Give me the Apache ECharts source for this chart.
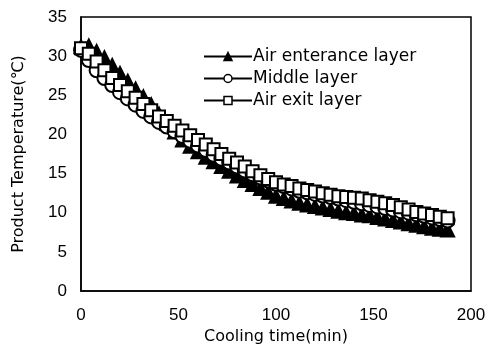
<!DOCTYPE html>
<html>
<head>
<meta charset="utf-8">
<script src="https://cdn.jsdelivr.net/npm/echarts@6/dist/echarts.min.js"></script>
<style>
  html, body { margin: 0; padding: 0; background: #fff; }
  #chart { width: 489px; height: 350px; }
</style>
</head>
<body>
<div id="chart"></div>
<script>
// sampling times (min)
const times = [0, 4, 8, 12, 16, 20, 24, 28, 32, 36, 40, 44, 48, 52, 56, 60, 64, 68, 72, 76,
  80, 84, 88, 92, 96, 100, 104, 108, 112, 116, 120, 124, 128, 132, 136, 140, 144, 148, 152, 156,
  160, 164, 168, 172, 176, 180, 184, 188];

const airEntrance = [31.2, 31.3, 30.6, 29.8, 28.8, 27.8, 26.8, 25.8, 24.8, 23.8, 22.6, 21.4, 20.3,
  19.3, 18.5, 17.8, 17.1, 16.5, 15.9, 15.3, 14.7, 14.1, 13.6, 13.1, 12.6, 12.1, 11.8, 11.5, 11.2,
  11.0, 10.8, 10.6, 10.4, 10.2, 10.0, 9.9, 9.7, 9.6, 9.4, 9.2, 9.0, 8.8, 8.6, 8.4, 8.2, 8.0, 7.9, 7.8];

const middleLayer = [30.8, 29.5, 28.2, 27.2, 26.3, 25.4, 24.6, 23.8, 23.0, 22.3, 21.6, 21.0, 20.4,
  19.8, 19.2, 18.6, 18.0, 17.4, 16.9, 16.4, 15.9, 15.4, 14.9, 14.5, 14.1, 13.7, 13.4, 13.1, 12.8,
  12.6, 12.4, 12.2, 12.0, 11.8, 11.6, 11.4, 11.2, 11.0, 10.8, 10.6, 10.4, 10.2, 10.0, 9.8, 9.6, 9.4,
  9.2, 9.0];

const airExit = [31.0, 30.3, 29.3, 28.2, 27.2, 26.3, 25.5, 24.7, 23.9, 23.1, 22.3, 21.7, 21.1,
  20.5, 19.9, 19.3, 18.7, 18.1, 17.5, 16.9, 16.4, 15.9, 15.3, 14.8, 14.3, 13.9, 13.6, 13.4, 13.1,
  12.9, 12.7, 12.5, 12.3, 12.1, 12.0, 11.9, 11.8, 11.6, 11.4, 11.2, 11.0, 10.7, 10.4, 10.1, 9.9,
  9.7, 9.5, 9.3];

const seriesNames = ['Air enterance layer', 'Middle layer', 'Air exit layer'];

const tickFont = 'Liberation Sans, Arial, sans-serif';
const textFont = 'DejaVu Sans, sans-serif';
const chart = echarts.init(document.getElementById('chart'));

function pairs(vals) {
  return times.map((t, i) => [t, vals[i]]);
}

function makeSeries(name, vals, symbol, filled) {
  return {
    name,
    type: 'line',
    data: pairs(vals),
    symbol,
    symbolSize: symbol === 'triangle' ? 13 : (symbol === 'rect' ? 12 : 14),
    showAllSymbol: true,
    lineStyle: { color: '#000', width: 1 },
    itemStyle: {
      color: filled ? '#000' : '#fff',
      borderColor: '#000',
      borderWidth: 2,
    },
    emphasis: { disabled: true },
    animation: false,
  };
}

chart.setOption({
  backgroundColor: '#fff',
  grid: {
    left: 81, right: 18, top: 17, bottom: 59,
    show: true, borderColor: '#000', borderWidth: 1.5,
  },
  legend: {
    left: 198, top: 43,
    orient: 'vertical',
    itemWidth: 48, itemHeight: 10, itemGap: 5,
    itemStyle: { borderWidth: 1.5 },
    textStyle: { fontFamily: textFont, fontSize: 17, color: '#000', padding: [0, 0, 0, -4] },
    data: seriesNames,
  },
  xAxis: {
    type: 'value',
    min: 0, max: 200, interval: 50,
    name: 'Cooling time(min)',
    nameLocation: 'middle',
    nameGap: 28,
    nameTextStyle: { fontFamily: textFont, fontSize: 16, color: '#000' },
    axisLine: { lineStyle: { color: '#000', width: 1.5 } },
    axisTick: { show: false },
    axisLabel: { fontFamily: tickFont, fontSize: 17, color: '#000', margin: 16 },
    splitLine: { show: false },
  },
  yAxis: {
    type: 'value',
    min: 0, max: 35, interval: 5,
    name: 'Product Temperature(\u2103)',
    nameLocation: 'middle',
    nameGap: 54,
    nameTextStyle: { fontFamily: textFont, fontSize: 16, color: '#000' },
    axisLine: { lineStyle: { color: '#000', width: 1.5 } },
    axisTick: { show: false },
    axisLabel: { fontFamily: tickFont, fontSize: 17, color: '#000', margin: 14 },
    splitLine: { show: false },
  },
  series: [
    makeSeries(seriesNames[0], airEntrance, 'triangle', true),
    makeSeries(seriesNames[1], middleLayer, 'circle', false),
    makeSeries(seriesNames[2], airExit, 'rect', false),
  ],
});
</script>
</body>
</html>
